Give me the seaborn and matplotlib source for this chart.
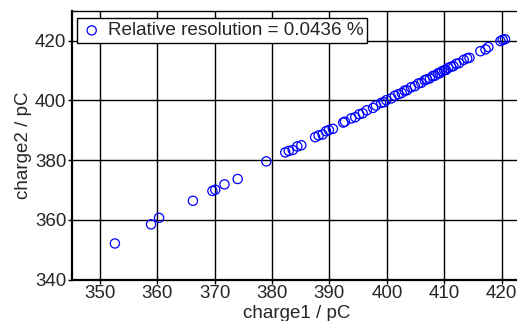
import matplotlib
matplotlib.use("Agg")
import matplotlib.pyplot as plt
import seaborn as sns
import pandas as pd

charge1 = [352.6, 358.9, 360.3, 366.2, 369.6, 370.1, 371.7, 374.0, 379.0,
           382.3, 382.9, 383.6, 384.4, 385.1, 387.5, 388.1, 388.8, 389.4, 389.9,
           390.6, 392.4, 392.7, 393.8, 394.5, 395.2, 395.8, 396.5, 397.6, 398.1,
           399.0, 399.5, 399.9, 400.8, 401.4, 402.0, 402.6, 403.1, 403.5, 404.2,
           404.9, 405.5, 406.0, 406.6, 407.0, 407.5, 408.0, 408.4, 408.9, 409.2,
           409.6, 410.0, 410.3, 410.7, 411.2, 411.6, 412.1, 412.6, 413.4, 414.0,
           414.4, 416.3, 417.2, 417.7, 419.8, 420.2, 420.6]
charge2 = [352.1, 358.5, 360.7, 366.4, 369.7, 370.1, 371.9, 373.7, 379.6,
           382.6, 383.1, 383.4, 384.6, 385.0, 387.7, 388.3, 388.6, 389.7, 390.1,
           390.5, 392.6, 392.9, 394.0, 394.4, 395.4, 395.7, 396.7, 397.5, 398.3,
           399.2, 399.4, 400.1, 400.7, 401.6, 402.1, 402.5, 403.3, 403.4, 404.4,
           404.8, 405.7, 405.9, 406.8, 407.1, 407.4, 408.2, 408.3, 409.1, 409.1,
           409.8, 410.1, 410.2, 410.9, 411.3, 411.5, 412.3, 412.5, 413.6, 414.1,
           414.3, 416.5, 417.1, 417.9, 419.9, 420.3, 420.5]
legend_label = "Relative resolution = 0.0436 %"
x_ticks = [350, 360, 370, 380, 390, 400, 410, 420]
y_ticks = [340, 360, 380, 400, 420]

sns.set_style("white")
plt.rcParams['font.family'] = ['Liberation Sans', 'DejaVu Sans']

df = pd.DataFrame({"charge1": charge1, "charge2": charge2})

fig = plt.figure(figsize=(5.17, 3.21), dpi=100)
ax = fig.add_axes([0.139, 0.129, 0.87, 0.837])
sns.scatterplot(data=df, x="charge1", y="charge2", ax=ax, marker="o", s=44,
                facecolors="none", edgecolor="#0000ff", linewidth=0.9,
                label=legend_label, zorder=3)

ax.set_xlim(345.1, 423.5)
ax.set_ylim(340, 430)
ax.set_xticks(x_ticks)
ax.set_yticks(y_ticks)
ax.grid(True, color="black", linewidth=1.0)
ax.set_axisbelow(True)
ax.tick_params(axis="both", labelsize=13.5, direction="out", length=3,
               width=1, color="black", pad=1, left=True, bottom=True)
for s in ["left", "bottom"]:
    ax.spines[s].set_linewidth(1.6)
    ax.spines[s].set_color("black")
ax.spines["top"].set_linewidth(1.0)
ax.spines["top"].set_color("black")
ax.spines["right"].set_visible(False)

ax.set_xlabel("charge1 / pC", fontsize=13.5, labelpad=2)
ax.set_ylabel("charge2 / pC", fontsize=13.5, labelpad=2)

leg = ax.legend(loc="upper left", fontsize=13.6, frameon=True, fancybox=False,
                borderpad=0.2, handletextpad=0.25, handlelength=1.2,
                borderaxespad=0.25, bbox_to_anchor=(0.0, 0.99))
leg.get_frame().set_edgecolor("black")
leg.get_frame().set_linewidth(1.0)
leg.get_frame().set_alpha(1)

fig.savefig("out.png", dpi=100)
